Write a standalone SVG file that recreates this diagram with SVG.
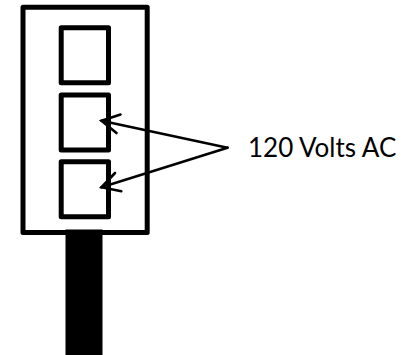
<svg xmlns="http://www.w3.org/2000/svg" width="412" height="355" viewBox="0 0 412 355">
<style>
.box{fill:#fff;stroke:#000;stroke-width:5;stroke-linejoin:round}
.wire{fill:none;stroke:#000;stroke-width:2.6;stroke-linecap:round;stroke-linejoin:miter}
text{font-family:Lato,"Open Sans","Liberation Sans",sans-serif;font-size:26px;fill:#000}
</style>
<rect width="412" height="355" fill="#fff"/>
<g id="plate"><rect class="box" x="23" y="7.300" width="124.200" height="225.200"/></g>
<g id="cable"><rect x="65.500" y="229.500" width="37" height="125.500" fill="#000"/></g>
<g id="outlet-top"><rect class="box" x="61.200" y="27.800" width="47.300" height="55"/></g>
<g id="outlet-middle"><rect class="box" x="61.200" y="95.100" width="47.300" height="54.800"/></g>
<g id="outlet-bottom"><rect class="box" x="61.200" y="161.800" width="47.300" height="55"/></g>
<g id="connectors">
<path class="wire" d="M227.500 147.700L101.500 120.800"/>
<path class="wire" d="M120.500 114.500L101.500 120.800L116.500 133"/>
<path class="wire" d="M227.500 147.700L101.500 187.300"/>
<path class="wire" d="M115 173L101.500 187.300L121.300 191.200"/>
</g>
<g id="label"><text x="248" y="157">120 Volts AC</text></g>
</svg>
